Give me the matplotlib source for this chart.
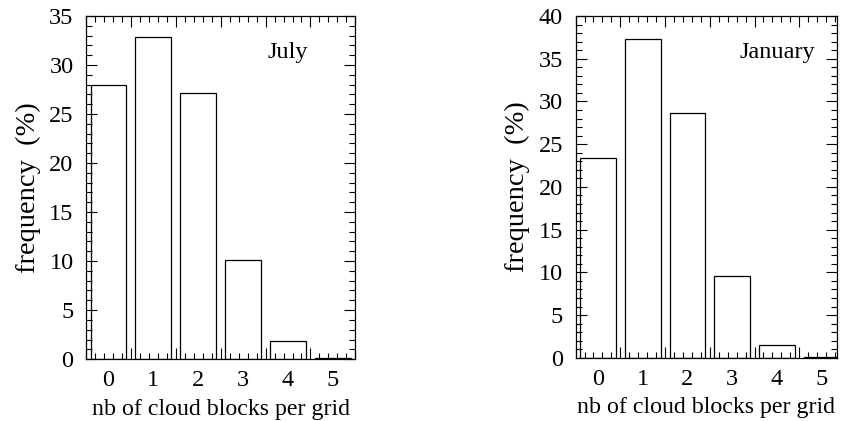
import numpy as np
import matplotlib
matplotlib.use("Agg")
import matplotlib.pyplot as plt
from matplotlib.ticker import MultipleLocator, FixedLocator, NullFormatter

plt.rcParams['font.family'] = ['Liberation Serif', 'DejaVu Serif']

categories = [0, 1, 2, 3, 4, 5]
july = [28.0, 32.9, 27.1, 10.1, 1.85, 0.1]
january = [23.4, 37.3, 28.6, 9.55, 1.45, 0.15]
panels = [("July", july, 35, 5.5), ("January", january, 40, 5.35)]

fig = plt.figure(figsize=(8.44, 4.21), dpi=100)
rects = [[0.102, 0.147, 0.319, 0.815], [0.682, 0.150, 0.310, 0.812]]

for (title, vals, ymax, xmax), r in zip(panels, rects):
    ax = fig.add_axes(r)
    x = np.array(categories, dtype=float)
    xmin = -0.5
    left = np.maximum(x - 0.4, xmin)
    right = x + 0.4
    ax.bar(left, vals, width=right - left, align='edge', color='white',
           edgecolor='black', linewidth=0.9)
    ax.set_xlim(xmin, xmax)
    ax.set_ylim(0, ymax)
    # ticks
    ax.xaxis.set_major_locator(FixedLocator(np.arange(-0.5, 6.0, 1.0)))
    ax.xaxis.set_minor_locator(FixedLocator([v for v in np.arange(-0.5, 6.0, 0.2)
                                             if abs((v + 0.5) % 1.0) > 1e-6 and abs((v + 0.5) % 1.0 - 1) > 1e-6]))
    ax.xaxis.set_major_formatter(NullFormatter())
    ax.yaxis.set_major_locator(MultipleLocator(5))
    ax.yaxis.set_minor_locator(MultipleLocator(1))
    ax.tick_params(which='both', direction='in', top=True, right=True, width=0.8)
    ax.tick_params(which='major', length=8, labelsize=17.5)
    ax.tick_params(which='minor', length=4)
    ax.tick_params(axis='y', which='major', pad=9)
    for c in categories:
        ax.text(c, -0.032, str(c), transform=ax.get_xaxis_transform(),
                ha='center', va='top', fontsize=17.5)
    for s in ax.spines.values():
        s.set_linewidth(0.9)
    ax.set_xlabel("nb of cloud blocks per grid", fontsize=17.2, labelpad=25)
    ax.set_ylabel("frequency  (%)", fontsize=20.5, labelpad=6)
    ax.text(4.0, ymax * 0.893, title, ha='center', va='center', fontsize=17.5)

fig.savefig("out.png", dpi=100)
